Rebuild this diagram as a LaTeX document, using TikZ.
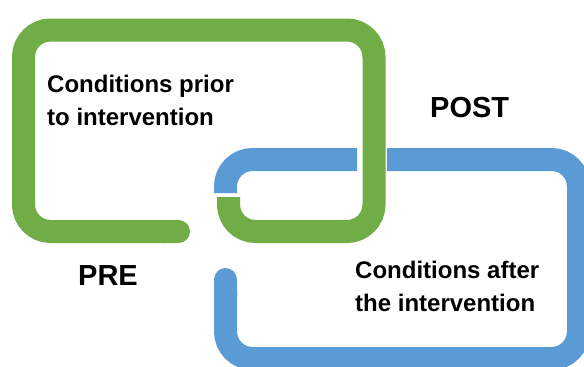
\documentclass[tikz,border=0pt]{standalone}
\usepackage{fontspec}
\setmainfont{Liberation Sans}
\usetikzlibrary{arrows.meta}
\definecolor{lgreen}{HTML}{70AD47}
\definecolor{lblue}{HTML}{5B9BD5}
\begin{document}
\begin{tikzpicture}[x=1pt,y=-1pt,
  link/.style={line width=23pt, rounded corners=27pt, line cap=butt},
  greenlink/.style={link, draw=lgreen},
  bluelink/.style={link, draw=lblue},
  lab/.style={font=\bfseries\fontsize{24}{33}\selectfont, align=left, inner sep=0pt, anchor=north west},
  big/.style={font=\bfseries\fontsize{29}{33}\selectfont, inner sep=0pt, anchor=base west}]
\fill[white] (0,0) rectangle (584,367);
\useasboundingbox (0,0) rectangle (584,367);
\clip (0,0) rectangle (584,367);
% blue link
\draw[bluelink] (357,159.5) -- (225.5,159.5) -- (225.5,193);
\draw[bluelink, {Round Cap[]}-] (225.5,268) -- (225.5,358.5) -- (578.5,358.5) -- (578.5,159.5) -- (387,159.5);
% green link
\draw[greenlink, {Round Cap[]}-] (190,231.5) -- (23.5,231.5) -- (23.5,30) -- (374,30) -- (374,231.5) -- (228.5,231.5) -- (228.5,197);
% labels
\node[lab] (pretext) at (47,74.8) {Conditions prior\\to intervention};
\node[lab] (posttext) at (355,260.5) {Conditions after\\the intervention};
\node[big] (prelab) at (78,285) {PRE};
\node[big] (postlab) at (430,117) {POST};
\end{tikzpicture}
\end{document}
